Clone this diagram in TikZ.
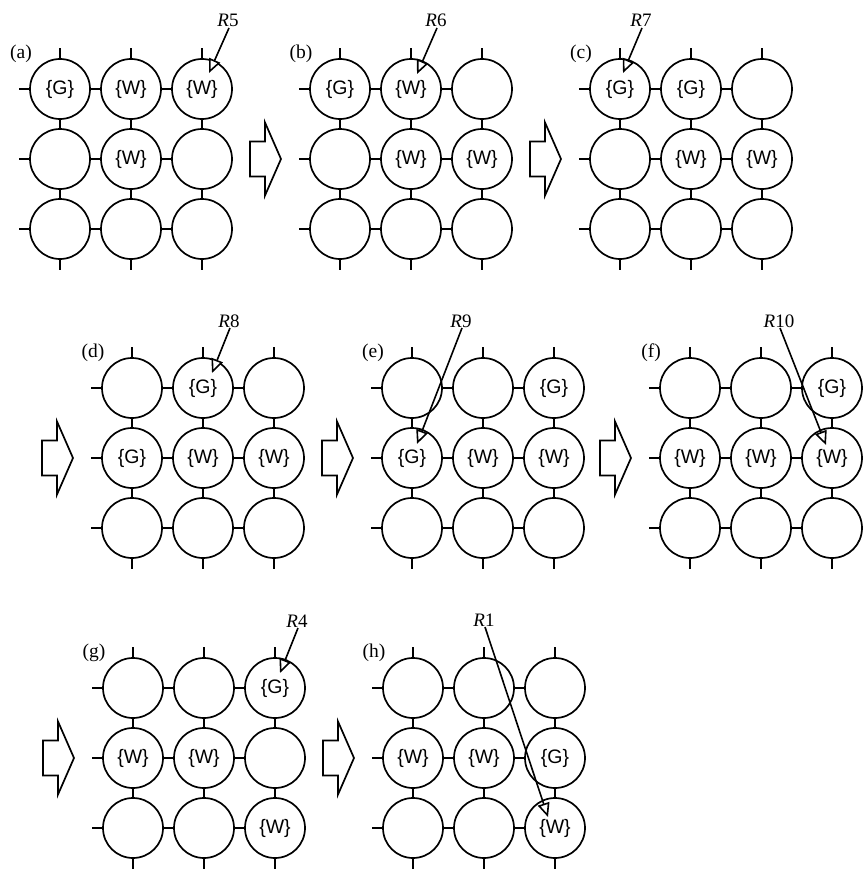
\documentclass[tikz,border=0pt]{standalone}
\usepackage{fontspec}
\setsansfont{Liberation Sans}
\setmainfont{Liberation Serif}
\usetikzlibrary{arrows.meta,calc}
\tikzset{
  cell/.style={circle, draw, line width=1.7pt, minimum size=60pt, inner sep=0pt},
  celltext/.style={font=\sffamily\fontsize{19.5}{20}\selectfont, inner sep=0pt},
  link/.style={line width=1.7pt},
  panellabel/.style={font=\fontsize{19.5}{20}\selectfont, inner sep=0pt},
  rlabel/.style={font=\fontsize{19}{20}\selectfont, inner sep=0pt, anchor=base},
  pointer/.style={line width=1.6pt, -{Triangle[open, length=14pt, width=12pt, fill=white]}},
  bigarrowshape/.style={draw, line width=1.7pt, fill=white, line join=miter}
}
% #1 name, #2 x of first column, #3 y of first row, #4 label
\newcommand\gridpanel[4]{%
  \foreach \r in {1,2,3}{
    \foreach \c in {1,2,3}{
      \node[cell] (#1\r\c) at ({#2+(\c-1)*71},{#3+(\r-1)*70}) {};
    }
  }
  \foreach \c in {1,2,3}{
    \draw[link] (#11\c.north) -- ++(0,-10);
    \draw[link] (#13\c.south) -- ++(0,10);
  }
  \foreach \r in {1,2,3}{
    \draw[link] (#1\r1.west) -- ++(-10,0);
    \draw[link] (#1\r1) -- (#1\r2);
    \draw[link] (#1\r2) -- (#1\r3);
  }
  \foreach \c in {1,2,3}{
    \draw[link] (#11\c) -- (#12\c);
    \draw[link] (#12\c) -- (#13\c);
  }
  \node[panellabel] (#1lab) at ({#2-39},{#3-35}) {#4};
}
\newcommand\cellmarks[2]{%
  \foreach \rc/\t in {#2}{\node[celltext] (#1\rc t) at (#1\rc) {\{\t\}};}%
}
% #1 first column x of next panel, #2 centre y
\newcommand\bigarrow[2]{%
  \draw[bigarrowshape] ({#1-90},{#2-17.5}) -- ({#1-75},{#2-17.5}) -- ({#1-75},{#2-36.5})
    -- ({#1-59},{#2}) -- ({#1-75},{#2+36.5}) -- ({#1-75},{#2+17.5}) -- ({#1-90},{#2+17.5}) -- cycle;
}
% #1 name, #2 label text, #3 start, #4 tip
\newcommand\pointerto[4]{%
  \coordinate (#1s) at (#3);
  \coordinate (#1t) at (#4);
  \node[rlabel] (#1) at ($(#1s)+(-1,-1)$) {\textit{R}#2};
  \draw[pointer] (#1s) -- (#1t);
}
\begin{document}
\begin{tikzpicture}[x=1pt,y=-1pt]
\useasboundingbox (0,0) rectangle (862,875);
% row 1
\gridpanel{a}{60}{89}{(a)}
\cellmarks{a}{11/G,12/W,13/W,22/W}
\gridpanel{b}{340}{89}{(b)}
\cellmarks{b}{11/G,12/W,22/W,23/W}
\gridpanel{c}{620}{89}{(c)}
\cellmarks{c}{11/G,12/G,22/W,23/W}
\bigarrow{340}{159}
\bigarrow{620}{159}
% row 2
\gridpanel{d}{132}{388}{(d)}
\cellmarks{d}{12/G,21/G,22/W,23/W}
\gridpanel{e}{412}{388}{(e)}
\cellmarks{e}{13/G,21/G,22/W,23/W}
\gridpanel{f}{690}{388}{(f)}
\cellmarks{f}{13/G,21/W,22/W,23/W}
\bigarrow{132}{458}
\bigarrow{412}{458}
\bigarrow{690}{458}
% row 3
\gridpanel{g}{133}{688}{(g)}
\cellmarks{g}{13/G,21/W,22/W,33/W}
\gridpanel{h}{413}{688}{(h)}
\cellmarks{h}{21/W,22/W,23/G,33/W}
\bigarrow{133}{758}
\bigarrow{413}{758}
% pointers
\pointerto{r5}{5}{229,28}{209,73}
\pointerto{r6}{6}{437,28}{417,74}
\pointerto{r7}{7}{642,28}{623,73}
\pointerto{r8}{8}{230,328}{212,373}
\pointerto{r9}{9}{462,328}{417,444}
\pointerto{r10}{10}{780,328}{826,445}
\pointerto{r4}{4}{298,628}{280,673}
\pointerto{r1}{1}{485,627}{548,817}
\end{tikzpicture}
\end{document}
